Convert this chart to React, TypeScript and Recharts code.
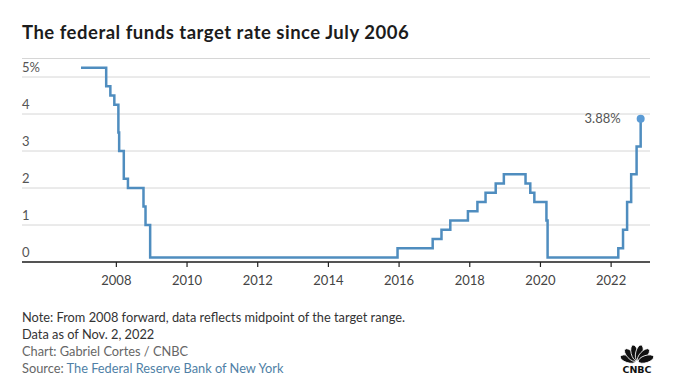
import React from "react";
import { LineChart, Line, XAxis, YAxis, CartesianGrid, ReferenceDot } from "recharts";

// FOMC target changes (midpoint of the range after Dec 2008)
const changeDates = [
  "2007-01-01", "2007-09-18", "2007-10-31", "2007-12-11", "2008-01-22", "2008-01-30",
  "2008-03-18", "2008-04-30", "2008-10-08", "2008-10-29", "2008-12-16", "2015-12-16",
  "2016-12-14", "2017-03-15", "2017-06-14", "2017-12-13", "2018-03-21", "2018-06-13",
  "2018-09-26", "2018-12-19", "2019-07-31", "2019-09-18", "2019-10-30", "2020-03-03",
  "2020-03-15", "2022-03-16", "2022-05-04", "2022-06-15", "2022-07-27", "2022-09-21",
  "2022-11-02",
];
const targetRates = [
  5.25, 4.75, 4.5, 4.25, 3.5, 3.0,
  2.25, 2.0, 1.5, 1.0, 0.125, 0.375,
  0.625, 0.875, 1.125, 1.375, 1.625, 1.875,
  2.125, 2.375, 2.125, 1.875, 1.625, 1.125,
  0.125, 0.375, 0.875, 1.625, 2.375, 3.125,
  3.875,
];
const yearTicks = [2008, 2010, 2012, 2014, 2016, 2018, 2020, 2022];
const rateTicks = [0, 1, 2, 3, 4, 5];
const lastLabel = "3.88%";

const FONT = "Lato, 'Open Sans', sans-serif";
const LINE = "#4f8dbf";

const toYear = (s: string) => {
  const t = Date.parse(s);
  const y = new Date(t).getUTCFullYear();
  const start = Date.UTC(y, 0, 1);
  const end = Date.UTC(y + 1, 0, 1);
  return y + (t - start) / (end - start);
};

const data = changeDates.map((d, i) => ({ x: toYear(d), rate: targetRates[i] }));
const last = data[data.length - 1];

const YTick = (props: any) => {
  const { y, payload } = props;
  const label = payload.value === 5 ? "5%" : String(payload.value);
  return (
    <text x={22} y={y - 5} fill="#555" fontSize={13} fontFamily={FONT} textAnchor="start">
      {label}
    </text>
  );
};

const XTick = (props: any) => {
  const { x, y, payload } = props;
  return (
    <g>
      <line x1={x} x2={x} y1={y - 8} y2={y - 3} stroke="#222" strokeWidth={1.2} />
      <text x={x} y={y + 15} fill="#444" fontSize={13} fontFamily={FONT} textAnchor="middle">
        {payload.value}
      </text>
    </g>
  );
};

const EndLabel = (props: any) => {
  const { cx, cy } = props;
  return (
    <g>
      <circle cx={cx} cy={cy} r={4} fill="#5b9bd5" />
      <text x={cx - 20} y={cy + 4} fill="#555" fontSize={13} fontFamily={FONT} textAnchor="end">
        {lastLabel}
      </text>
    </g>
  );
};

const CnbcLogo = () => {
  const angles = [-72, -43, -14, 14, 43, 72];
  return (
    <svg width={40} height={32} style={{ position: "absolute", left: 617, top: 343 }}>
      {angles.map((a, i) => (
        <ellipse
          key={i}
          cx={20}
          cy={9.5}
          rx={3.6}
          ry={8}
          fill="#111"
          stroke="#fff"
          strokeWidth={0.8}
          transform={`rotate(${a} 20 19)`}
        />
      ))}
      <text x={20} y={30} textAnchor="middle" fontSize={9.5} fontWeight={900} fontFamily="'DejaVu Sans', sans-serif" fill="#111">
        CNBC
      </text>
    </svg>
  );
};

export default function App() {
  return (
    <div
      style={{
        position: "absolute",
        left: 0,
        top: 0,
        width: 673,
        height: 385,
        background: "#fff",
        fontFamily: FONT,
        overflow: "hidden",
      }}
    >
      <div
        style={{
          position: "absolute",
          left: 22,
          top: 21,
          fontSize: 18.5,
          fontWeight: 700,
          letterSpacing: 0.5,
          color: "#1c1c1c",
          whiteSpace: "nowrap",
        }}
      >
        The federal funds target rate since July 2006
      </div>

      <div style={{ position: "absolute", left: 0, top: 0 }}>
        <LineChart
          width={673}
          height={300}
          data={data}
          margin={{ top: 58.5, right: 23, bottom: 8, left: 0 }}
        >
          <CartesianGrid horizontal vertical={false} stroke="#d6d6d6" strokeWidth={1} />
          <XAxis
            dataKey="x"
            type="number"
            domain={[2005.33, 2023.1]}
            ticks={yearTicks}
            axisLine={{ stroke: "#222", strokeWidth: 1.5 }}
            tickLine={false}
            tick={<XTick />}
            height={30}
            interval={0}
          />
          <YAxis
            type="number"
            domain={[0, 5.5]}
            ticks={rateTicks}
            width={22}
            axisLine={false}
            tickLine={false}
            tick={<YTick />}
            interval={0}
          />
          <Line
            type="stepAfter"
            dataKey="rate"
            stroke={LINE}
            strokeWidth={2.5}
            dot={false}
            activeDot={false}
            isAnimationActive={false}
          />
          <ReferenceDot x={last.x} y={last.rate} r={4} shape={<EndLabel />} />
        </LineChart>
      </div>

      <div style={{ position: "absolute", left: 22, top: 309, fontSize: 12.8, lineHeight: "17px", color: "#333" }}>
        <div>Note: From 2008 forward, data reflects midpoint of the target range.</div>
        <div>Data as of Nov. 2, 2022</div>
        <div style={{ color: "#666" }}>Chart: Gabriel Cortes / CNBC</div>
        <div style={{ color: "#666" }}>
          Source: <span style={{ color: "#4f7fa6" }}>The Federal Reserve Bank of New York</span>
        </div>
      </div>

      <CnbcLogo />
    </div>
  );
}
